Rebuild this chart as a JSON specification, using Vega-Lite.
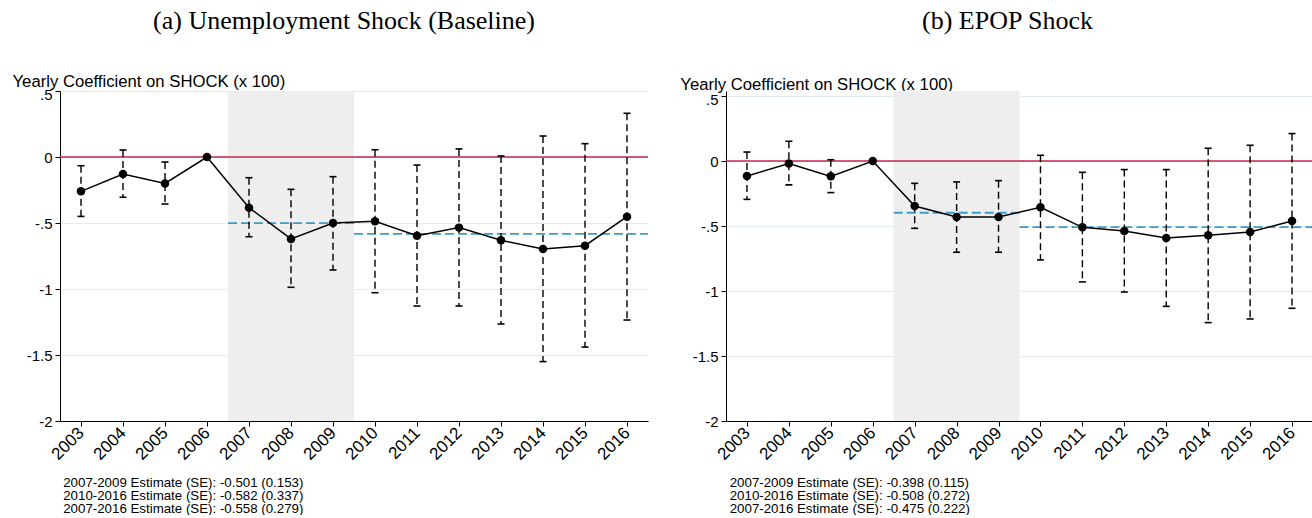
{
  "$schema": "https://vega.github.io/schema/vega-lite/v6.json",
  "background": "white",
  "padding": {"left": 12, "top": 7, "right": 0, "bottom": 0},
  "spacing": 30,
  "bounds": "full",
  "config": {
    "view": {"stroke": null},
    "font": "Liberation Sans",
    "axis": {"labelColor": "black", "titleColor": "black", "tickColor": "black", "domainColor": "black", "titleFontWeight": "normal", "labelFont": "Liberation Sans", "titleFont": "Liberation Sans"}
  },
  "datasets": {
    "a": [
      {"year": 2003, "est": -0.26, "lo": -0.45, "hi": -0.066},
      {"year": 2004, "est": -0.129, "lo": -0.305, "hi": 0.053},
      {"year": 2005, "est": -0.2, "lo": -0.356, "hi": -0.038},
      {"year": 2006, "est": 0, "lo": null, "hi": null},
      {"year": 2007, "est": -0.384, "lo": -0.604, "hi": -0.157},
      {"year": 2008, "est": -0.621, "lo": -0.987, "hi": -0.245},
      {"year": 2009, "est": -0.5, "lo": -0.856, "hi": -0.149},
      {"year": 2010, "est": -0.487, "lo": -1.028, "hi": 0.055},
      {"year": 2011, "est": -0.596, "lo": -1.129, "hi": -0.061},
      {"year": 2012, "est": -0.535, "lo": -1.129, "hi": 0.061},
      {"year": 2013, "est": -0.631, "lo": -1.265, "hi": 0.008},
      {"year": 2014, "est": -0.697, "lo": -1.55, "hi": 0.159},
      {"year": 2015, "est": -0.672, "lo": -1.44, "hi": 0.101},
      {"year": 2016, "est": -0.452, "lo": -1.235, "hi": 0.331}
    ],
    "b": [
      {"year": 2003, "est": -0.115, "lo": -0.295, "hi": 0.069},
      {"year": 2004, "est": -0.02, "lo": -0.184, "hi": 0.152},
      {"year": 2005, "est": -0.118, "lo": -0.243, "hi": 0.01},
      {"year": 2006, "est": 0, "lo": null, "hi": null},
      {"year": 2007, "est": -0.346, "lo": -0.518, "hi": -0.172},
      {"year": 2008, "est": -0.43, "lo": -0.702, "hi": -0.161},
      {"year": 2009, "est": -0.43, "lo": -0.702, "hi": -0.151},
      {"year": 2010, "est": -0.356, "lo": -0.761, "hi": 0.044},
      {"year": 2011, "est": -0.51, "lo": -0.93, "hi": -0.087},
      {"year": 2012, "est": -0.538, "lo": -1.008, "hi": -0.066},
      {"year": 2013, "est": -0.592, "lo": -1.118, "hi": -0.066},
      {"year": 2014, "est": -0.572, "lo": -1.243, "hi": 0.098},
      {"year": 2015, "est": -0.546, "lo": -1.215, "hi": 0.121},
      {"year": 2016, "est": -0.462, "lo": -1.133, "hi": 0.211}
    ],
    "a_per": [
      {"year": 2006.5, "year2": 2009.5, "est": -0.501},
      {"year": 2009.5, "year2": 2016.5, "est": -0.582}
    ],
    "b_per": [
      {"year": 2006.5, "year2": 2009.5, "est": -0.398},
      {"year": 2009.5, "year2": 2016.5, "est": -0.508}
    ],
    "shade": [{"year": 2006.5, "year2": 2009.5}],
    "zero": [{"year": 2002.5, "year2": 2016.5, "est": 0}]
  },
  "hconcat": [
    {
      "width": 588,
      "height": 330,
      "title": {"text": "(a) Unemployment Shock (Baseline)", "frame": "group", "anchor": "middle", "dx": -10, "offset": 40, "font": "Liberation Serif", "fontSize": 26, "fontWeight": "normal", "color": "black"},
      "layer": [
        {
          "data": {"name": "shade"},
          "mark": {"type": "rect", "color": "#eeeeee"},
          "encoding": {
            "x": {"field": "year", "type": "quantitative", "scale": {"domain": [2002.5, 2016.5], "nice": false, "zero": false},
              "axis": {"title": ["2007-2009 Estimate (SE): -0.501 (0.153)", "2010-2016 Estimate (SE): -0.582 (0.337)", "2007-2016 Estimate (SE): -0.558 (0.279)"],
                "titleAnchor": "start", "titleAlign": "left", "titleBaseline": "top", "titleX": 2.7, "titleY": 54.7, "titleFontSize": 13.3, "titleLineHeight": 13,
                "values": [2003, 2004, 2005, 2006, 2007, 2008, 2009, 2010, 2011, 2012, 2013, 2014, 2015, 2016], "format": "d",
                "labelAngle": -45, "labelAlign": "right", "labelBaseline": "middle", "labelFontSize": 17, "labelPadding": 4, "tickSize": 5, "grid": false, "labelOverlap": false, "labelFlush": false}},
            "x2": {"field": "year2"}
          }
        },
        {
          "data": {"name": "zero"},
          "mark": {"type": "rule", "color": "#c7254e", "strokeWidth": 1.5},
          "encoding": {
            "x": {"field": "year", "type": "quantitative", "scale": {"domain": [2002.5, 2016.5], "nice": false, "zero": false}},
            "x2": {"field": "year2"},
            "y": {"field": "est", "type": "quantitative", "scale": {"domain": [-2, 0.5], "nice": false, "zero": false},
              "axis": {"title": "Yearly Coefficient on SHOCK (x 100)", "titleAngle": 0, "titleAlign": "left", "titleBaseline": "alphabetic", "titleX": -48, "titleY": -4.3, "titleFontSize": 16.7,
                "values": [-2, -1.5, -1, -0.5, 0, 0.5], "labelExpr": "replace(toString(datum.value), '0.', '.')", "labelFontSize": 15, "labelPadding": 3, "tickSize": 5,
                "labelOffset": {"condition": {"test": "datum.value == 0.5", "value": 3.5}, "value": 0},
                "grid": true, "gridColor": "#e4ecec", "gridWidth": 1}}
          }
        },
        {
          "data": {"name": "a_per"},
          "mark": {"type": "rule", "color": "#3c9dc8", "strokeWidth": 1.8, "strokeDash": [9, 4]},
          "encoding": {
            "x": {"field": "year", "type": "quantitative", "scale": {"domain": [2002.5, 2016.5], "nice": false, "zero": false}},
            "x2": {"field": "year2"},
            "y": {"field": "est", "type": "quantitative", "scale": {"domain": [-2, 0.5], "nice": false, "zero": false}}
          }
        },
        {
          "data": {"name": "a"},
          "mark": {"type": "rule", "color": "black", "strokeWidth": 1.4, "strokeDash": [7, 4]},
          "encoding": {
            "x": {"field": "year", "type": "quantitative", "scale": {"domain": [2002.5, 2016.5], "nice": false, "zero": false}},
            "y": {"field": "hi", "type": "quantitative", "scale": {"domain": [-2, 0.5], "nice": false, "zero": false}},
            "y2": {"field": "lo"}
          }
        },
        {
          "data": {"name": "a"},
          "mark": {"type": "tick", "orient": "horizontal", "color": "black", "size": 7, "thickness": 1.6, "opacity": 1},
          "encoding": {
            "x": {"field": "year", "type": "quantitative", "scale": {"domain": [2002.5, 2016.5], "nice": false, "zero": false}},
            "y": {"field": "hi", "type": "quantitative", "scale": {"domain": [-2, 0.5], "nice": false, "zero": false}}
          }
        },
        {
          "data": {"name": "a"},
          "mark": {"type": "tick", "orient": "horizontal", "color": "black", "size": 7, "thickness": 1.6, "opacity": 1},
          "encoding": {
            "x": {"field": "year", "type": "quantitative", "scale": {"domain": [2002.5, 2016.5], "nice": false, "zero": false}},
            "y": {"field": "lo", "type": "quantitative", "scale": {"domain": [-2, 0.5], "nice": false, "zero": false}}
          }
        },
        {
          "data": {"name": "a"},
          "mark": {"type": "line", "color": "black", "strokeWidth": 1.5},
          "encoding": {
            "x": {"field": "year", "type": "quantitative", "scale": {"domain": [2002.5, 2016.5], "nice": false, "zero": false}},
            "y": {"field": "est", "type": "quantitative", "scale": {"domain": [-2, 0.5], "nice": false, "zero": false}}
          }
        },
        {
          "data": {"name": "a"},
          "mark": {"type": "circle", "color": "black", "size": 72, "opacity": 1},
          "encoding": {
            "x": {"field": "year", "type": "quantitative", "scale": {"domain": [2002.5, 2016.5], "nice": false, "zero": false}},
            "y": {"field": "est", "type": "quantitative", "scale": {"domain": [-2, 0.5], "nice": false, "zero": false}}
          }
        }
      ]
    },
    {
      "width": 587,
      "height": 330,
      "title": {"text": "(b) EPOP Shock", "frame": "group", "anchor": "middle", "dx": -12, "offset": 42.3, "font": "Liberation Serif", "fontSize": 26, "fontWeight": "normal", "color": "black"},
      "layer": [
        {
          "data": {"name": "shade"},
          "mark": {"type": "rect", "color": "#eeeeee"},
          "encoding": {
            "x": {"field": "year", "type": "quantitative", "scale": {"domain": [2002.5, 2016.5], "nice": false, "zero": false},
              "axis": {"title": ["2007-2009 Estimate (SE): -0.398 (0.115)", "2010-2016 Estimate (SE): -0.508 (0.272)", "2007-2016 Estimate (SE): -0.475 (0.222)"],
                "titleAnchor": "start", "titleAlign": "left", "titleBaseline": "top", "titleX": 3.2, "titleY": 54.7, "titleFontSize": 13.3, "titleLineHeight": 13,
                "values": [2003, 2004, 2005, 2006, 2007, 2008, 2009, 2010, 2011, 2012, 2013, 2014, 2015, 2016], "format": "d",
                "labelAngle": -45, "labelAlign": "right", "labelBaseline": "middle", "labelFontSize": 17, "labelPadding": 4, "tickSize": 5, "grid": false, "labelOverlap": false, "labelFlush": false}},
            "x2": {"field": "year2"}
          }
        },
        {
          "data": {"name": "zero"},
          "mark": {"type": "rule", "color": "#c7254e", "strokeWidth": 1.5},
          "encoding": {
            "x": {"field": "year", "type": "quantitative", "scale": {"domain": [2002.5, 2016.5], "nice": false, "zero": false}},
            "x2": {"field": "year2"},
            "y": {"field": "est", "type": "quantitative", "scale": {"domain": [-2, 0.5385], "nice": false, "zero": false},
              "axis": {"title": "Yearly Coefficient on SHOCK (x 100)", "titleAngle": 0, "titleAlign": "left", "titleBaseline": "alphabetic", "titleX": -46.2, "titleY": -2, "titleFontSize": 16.7,
                "values": [-2, -1.5, -1, -0.5, 0, 0.5], "labelExpr": "replace(toString(datum.value), '0.', '.')", "labelFontSize": 15, "labelPadding": 3, "tickSize": 5,
                "labelOffset": {"condition": {"test": "datum.value == 0.5", "value": 3.8}, "value": 0},
                "grid": true, "gridColor": "#e4ecec", "gridWidth": 1}}
          }
        },
        {
          "data": {"name": "b_per"},
          "mark": {"type": "rule", "color": "#3c9dc8", "strokeWidth": 1.8, "strokeDash": [9, 4]},
          "encoding": {
            "x": {"field": "year", "type": "quantitative", "scale": {"domain": [2002.5, 2016.5], "nice": false, "zero": false}},
            "x2": {"field": "year2"},
            "y": {"field": "est", "type": "quantitative", "scale": {"domain": [-2, 0.5385], "nice": false, "zero": false}}
          }
        },
        {
          "data": {"name": "b"},
          "mark": {"type": "rule", "color": "black", "strokeWidth": 1.4, "strokeDash": [7, 4]},
          "encoding": {
            "x": {"field": "year", "type": "quantitative", "scale": {"domain": [2002.5, 2016.5], "nice": false, "zero": false}},
            "y": {"field": "hi", "type": "quantitative", "scale": {"domain": [-2, 0.5385], "nice": false, "zero": false}},
            "y2": {"field": "lo"}
          }
        },
        {
          "data": {"name": "b"},
          "mark": {"type": "tick", "orient": "horizontal", "color": "black", "size": 7, "thickness": 1.6, "opacity": 1},
          "encoding": {
            "x": {"field": "year", "type": "quantitative", "scale": {"domain": [2002.5, 2016.5], "nice": false, "zero": false}},
            "y": {"field": "hi", "type": "quantitative", "scale": {"domain": [-2, 0.5385], "nice": false, "zero": false}}
          }
        },
        {
          "data": {"name": "b"},
          "mark": {"type": "tick", "orient": "horizontal", "color": "black", "size": 7, "thickness": 1.6, "opacity": 1},
          "encoding": {
            "x": {"field": "year", "type": "quantitative", "scale": {"domain": [2002.5, 2016.5], "nice": false, "zero": false}},
            "y": {"field": "lo", "type": "quantitative", "scale": {"domain": [-2, 0.5385], "nice": false, "zero": false}}
          }
        },
        {
          "data": {"name": "b"},
          "mark": {"type": "line", "color": "black", "strokeWidth": 1.5},
          "encoding": {
            "x": {"field": "year", "type": "quantitative", "scale": {"domain": [2002.5, 2016.5], "nice": false, "zero": false}},
            "y": {"field": "est", "type": "quantitative", "scale": {"domain": [-2, 0.5385], "nice": false, "zero": false}}
          }
        },
        {
          "data": {"name": "b"},
          "mark": {"type": "circle", "color": "black", "size": 72, "opacity": 1},
          "encoding": {
            "x": {"field": "year", "type": "quantitative", "scale": {"domain": [2002.5, 2016.5], "nice": false, "zero": false}},
            "y": {"field": "est", "type": "quantitative", "scale": {"domain": [-2, 0.5385], "nice": false, "zero": false}}
          }
        }
      ]
    }
  ]
}
